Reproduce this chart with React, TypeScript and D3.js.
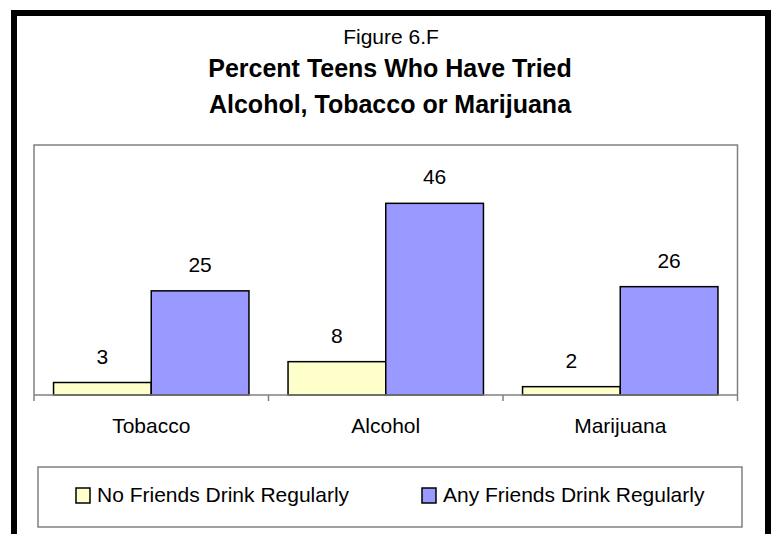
import React from "react";
import * as d3 from "d3";

const categories = ["Tobacco", "Alcohol", "Marijuana"];
const seriesNames = ["No Friends Drink Regularly", "Any Friends Drink Regularly"];
const noFriends = [3, 8, 2];
const anyFriends = [25, 46, 26];
const seriesColors = ["#FFFFCC", "#9999FF"];
const titleLines = ["Figure 6.F", "Percent Teens Who Have Tried", "Alcohol, Tobacco or Marijuana"];

const W = 775;
const H = 534;
const FONT = "'Liberation Sans', Arial, Helvetica, sans-serif";

export default function App() {
  const plot = { left: 34, right: 737.5, top: 145, bottom: 395 };
  const x0 = d3.scaleBand<string>().domain(categories).range([plot.left, plot.right]).paddingInner(0).paddingOuter(0);
  const x1 = d3.scaleBand<string>().domain(seriesNames).range([0, x0.bandwidth()]).paddingInner(0).paddingOuter(0.2);
  const y = d3.scaleLinear().domain([0, 60]).range([plot.bottom, plot.top]);
  const seriesValues = [noFriends, anyFriends];
  const boundaries = [...categories.map((c) => x0(c)!), plot.right];

  return (
    <svg width={W} height={H} style={{ position: "absolute", left: 0, top: 0, background: "#fff" }} fontFamily={FONT}>
      <rect x={0} y={0} width={W} height={H} fill="#fff" />
      {/* outer frame */}
      <rect x={14} y={13} width={754} height={600} fill="none" stroke="#000" strokeWidth={6} />
      {/* titles */}
      <text x={391} y={44} textAnchor="middle" fontSize={21} fill="#000">{titleLines[0]}</text>
      <text x={390} y={77} textAnchor="middle" fontSize={25} fontWeight="bold" fill="#000">{titleLines[1]}</text>
      <text x={390} y={113} textAnchor="middle" fontSize={25} fontWeight="bold" fill="#000">{titleLines[2]}</text>
      {/* plot area border */}
      <path
        d={`M${plot.left},${plot.bottom}V${plot.top}H${plot.right}V${plot.bottom}`}
        fill="none"
        stroke="#808080"
        strokeWidth={1.5}
      />
      {/* bars */}
      {categories.map((c, ci) =>
        seriesNames.map((s, si) => {
          const v = seriesValues[si][ci];
          const bx = x0(c)! + x1(s)!;
          const by = y(v);
          return (
            <g key={c + s}>
              <rect x={bx} y={by} width={x1.bandwidth()} height={y(0) - by} fill={seriesColors[si]} stroke="#000" strokeWidth={1.5} />
              <text x={bx + x1.bandwidth() / 2} y={by - 19} textAnchor="middle" fontSize={21} fill="#000">{v}</text>
            </g>
          );
        })
      )}
      {/* x axis */}
      <line x1={plot.left} x2={plot.right} y1={plot.bottom} y2={plot.bottom} stroke="#808080" strokeWidth={1.5} />
      {boundaries.map((b, i) => (
        <line key={i} x1={b} x2={b} y1={plot.bottom} y2={plot.bottom + 6} stroke="#808080" strokeWidth={1.5} />
      ))}
      {categories.map((c) => (
        <text key={c} x={x0(c)! + x0.bandwidth() / 2} y={433} textAnchor="middle" fontSize={21} fill="#000">{c}</text>
      ))}
      {/* legend */}
      <rect x={38} y={467} width={704} height={60} fill="#fff" stroke="#808080" strokeWidth={1.5} />
      {seriesNames.map((s, i) => {
        const lx = i === 0 ? 76 : 422;
        return (
          <g key={s}>
            <rect x={lx} y={488} width={14} height={15} fill={seriesColors[i]} stroke="#000" strokeWidth={1.5} />
            <text x={lx + 21} y={502} fontSize={21} fill="#000">{s}</text>
          </g>
        );
      })}
    </svg>
  );
}
